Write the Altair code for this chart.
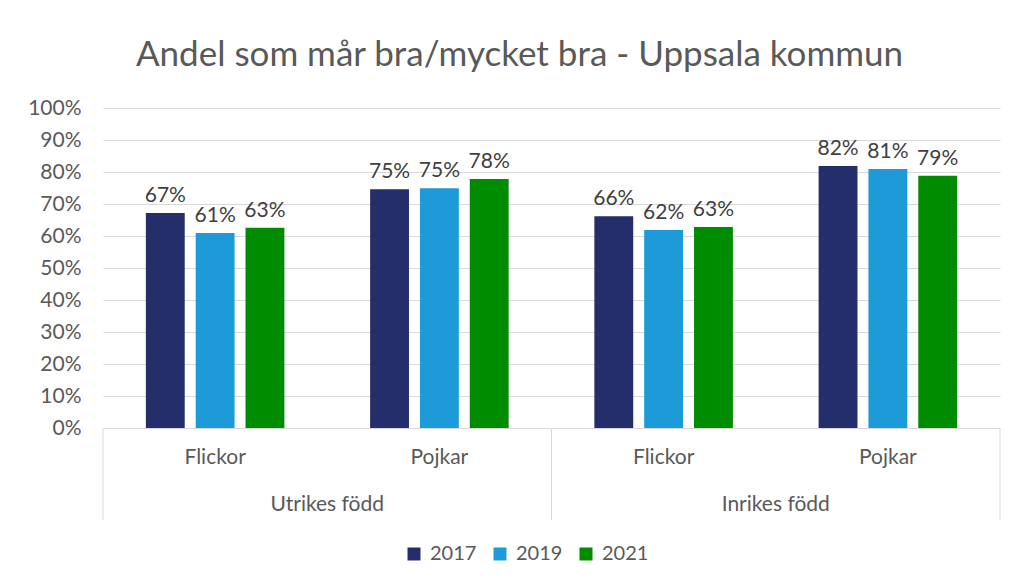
import altair as alt
import pandas as pd

groups = ["Utrikes född", "Utrikes född", "Inrikes född", "Inrikes född"]
genders = ["Flickor", "Pojkar", "Flickor", "Pojkar"]
years = ["2017", "2019", "2021"]
v2017 = [0.672, 0.746, 0.662, 0.819]
v2019 = [0.609, 0.749, 0.619, 0.809]
v2021 = [0.626, 0.778, 0.628, 0.788]
colors = ["#242E6B", "#1C9BD8", "#008C00"]
ticks_y = [0.0, 0.1, 0.2, 0.3, 0.4, 0.5, 0.6, 0.7, 0.8, 0.9, 1.0]

cats = [g + "|" + s for g, s in zip(groups, genders)]
rows = []
for yr, vals in zip(years, [v2017, v2019, v2021]):
    for c, v in zip(cats, vals):
        rows.append({"cat": c, "year": yr, "value": v})
df = pd.DataFrame(rows)

FONT = "Lato"
GRAY = "#595959"
LINE = "#d9d9d9"
W, H = 897, 320

xscale = alt.Scale(domain=cats, paddingInner=0, paddingOuter=0)
xaxis = alt.Axis(title=None, labelExpr="split(datum.value, '|')[1]", labelAngle=0,
                 ticks=False, grid=False, domainColor=LINE, labelFontSize=21, labelColor=GRAY,
                 labelPadding=18, labelFont=FONT)
xoff = alt.XOffset("year:N", scale=alt.Scale(domain=years, paddingInner=0.22, paddingOuter=0.86))
yaxis = alt.Axis(title=None, format=".0%", values=ticks_y, tickCount=11,
                 labelOverlap=False, domain=False, ticks=False, gridColor=LINE,
                 labelFontSize=21, labelColor=GRAY, labelPadding=22, labelFont=FONT)
yscale = alt.Scale(domain=[0, 1])

base = alt.Chart(df)
bars = base.mark_bar().encode(
    x=alt.X("cat:N", scale=xscale, axis=xaxis),
    xOffset=xoff,
    y=alt.Y("value:Q", scale=yscale, axis=yaxis),
    color=alt.Color("year:N", scale=alt.Scale(domain=years, range=colors),
                    legend=alt.Legend(title=None, orient="none", legendX=301, legendY=436,
                                      direction="horizontal", columns=3, symbolType="square",
                                      symbolSize=169, symbolStrokeWidth=0, labelFontSize=20,
                                      labelColor=GRAY, labelFont=FONT, columnPadding=13,
                                      labelOffset=6)),
)
labels = base.mark_text(dy=-17, fontSize=21, color="#404040", font=FONT).encode(
    x=alt.X("cat:N", scale=xscale, axis=xaxis),
    xOffset=xoff,
    y=alt.Y("value:Q", scale=yscale, axis=yaxis),
    text=alt.Text("value:Q", format=".0%"),
)

sep_left = pd.DataFrame({"cat": [cats[0], cats[2]]})
sep_right = pd.DataFrame({"cat": [cats[3]]})
rule_l = alt.Chart(sep_left).mark_rule(color=LINE, strokeWidth=1).encode(
    x=alt.X("cat:N", scale=xscale, bandPosition=0, axis=xaxis),
    y=alt.value(H), y2=alt.value(H + 92))
rule_r = alt.Chart(sep_right).mark_rule(color=LINE, strokeWidth=1).encode(
    x=alt.X("cat:N", scale=xscale, bandPosition=1, axis=xaxis),
    y=alt.value(H), y2=alt.value(H + 92))

grp = pd.DataFrame({"cat": [cats[0], cats[2]], "label": [groups[0], groups[2]]})
grp_text = alt.Chart(grp).mark_text(fontSize=21, color=GRAY, font=FONT, baseline="middle").encode(
    x=alt.X("cat:N", scale=xscale, bandPosition=1, axis=xaxis),
    y=alt.value(H + 77),
    text="label:N")

chart = alt.layer(bars, labels, rule_l, rule_r, grp_text).properties(
    width=W, height=H,
    title=alt.TitleParams("Andel som mår bra/mycket bra - Uppsala kommun", fontSize=35,
                          font=FONT, color=GRAY, fontWeight="normal", anchor="middle",
                          offset=24, dx=-32),
    autosize=alt.AutoSizeParams(type="none"),
    padding={"left": 95, "top": 100, "right": 10, "bottom": 150},
).configure(background="white", view=alt.ViewConfig(stroke=None))

chart.save("out.html", embed_options={"renderer": "svg", "actions": False})
